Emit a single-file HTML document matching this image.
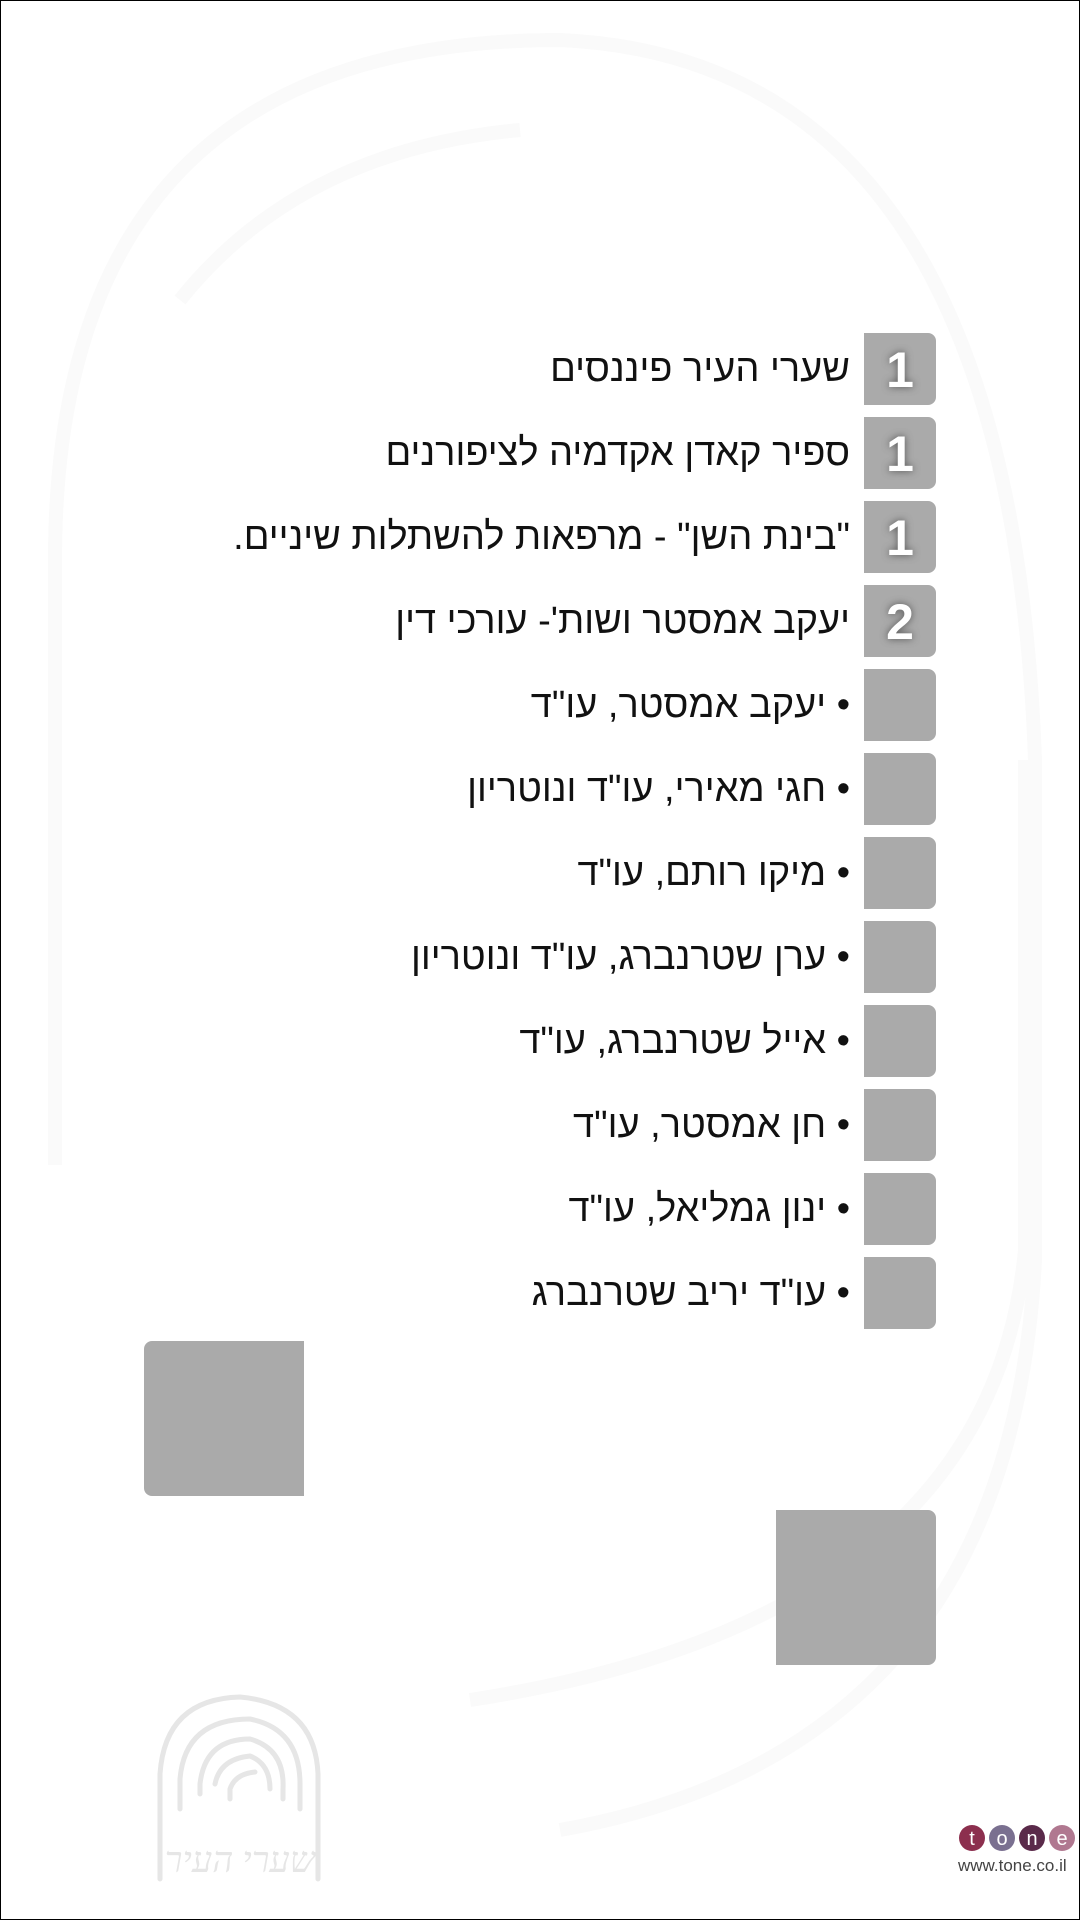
<!DOCTYPE html>
<html><head><meta charset="utf-8">
<style>
html,body{margin:0;padding:0}
body{width:1080px;height:1920px;position:relative;overflow:hidden;background:#fff;font-family:"Liberation Sans","DejaVu Sans",sans-serif}
.frame{position:absolute;left:0;top:0;width:1078px;height:1918px;border:1px solid #000}
.box{position:absolute;left:864px;width:72px;height:72px;background:#aaa;border-radius:0 8px 8px 0;color:#fff;font-weight:bold;font-size:50px;text-align:center;line-height:74px;text-shadow:0 0 8px #555}
.t{position:absolute;right:230px;height:72px;line-height:72px;font-size:38px;color:#111;direction:rtl;white-space:nowrap}
</style></head><body>
<div class="frame"></div>
<svg width="1080" height="1920" style="position:absolute;left:0;top:0">
<g fill="none" stroke="#fafafa" stroke-width="14">
<path d="M55 1165 V560 Q55 40 560 40 Q1010 60 1035 760 V1260 Q1010 1750 560 1830"/>
<path d="M180 300 Q300 150 520 130"/>
<path d="M1025 760 V1250 Q990 1620 470 1700"/>
</g>
</svg>
<div class="box" style="top:333px">1</div><div class="t" style="top:333px">שערי העיר פיננסים</div>
<div class="box" style="top:417px">1</div><div class="t" style="top:417px">ספיר קאדן אקדמיה לציפורנים</div>
<div class="box" style="top:501px">1</div><div class="t" style="top:501px">"בינת השן" - מרפאות להשתלות שיניים.</div>
<div class="box" style="top:585px">2</div><div class="t" style="top:585px">יעקב אמסטר ושות'- עורכי דין</div>
<div class="box" style="top:669px"></div><div class="t" style="top:669px">• יעקב אמסטר, עו"ד</div>
<div class="box" style="top:753px"></div><div class="t" style="top:753px">• חגי מאירי, עו"ד ונוטריון</div>
<div class="box" style="top:837px"></div><div class="t" style="top:837px">• מיקו רותם, עו"ד</div>
<div class="box" style="top:921px"></div><div class="t" style="top:921px">• ערן שטרנברג, עו"ד ונוטריון</div>
<div class="box" style="top:1005px"></div><div class="t" style="top:1005px">• אייל שטרנברג, עו"ד</div>
<div class="box" style="top:1089px"></div><div class="t" style="top:1089px">• חן אמסטר, עו"ד</div>
<div class="box" style="top:1173px"></div><div class="t" style="top:1173px">• ינון גמליאל, עו"ד</div>
<div class="box" style="top:1257px"></div><div class="t" style="top:1257px">• עו"ד יריב שטרנברג</div>
<div style="position:absolute;left:144px;top:1341px;width:160px;height:155px;background:#aaa;border-radius:8px 0 0 8px"></div>
<div style="position:absolute;left:776px;top:1510px;width:160px;height:155px;background:#aaa;border-radius:0 8px 8px 0"></div>
<svg width="170" height="190" style="position:absolute;left:155px;top:1694px">
<g fill="none" stroke="#e6e6e6" stroke-width="5" stroke-linecap="round">
<path d="M5 185 V80 Q10 5 85 3 Q160 10 163 80 V185"/>
<path d="M25 115 V85 Q30 25 95 25 Q145 35 145 90 V115"/>
<path d="M45 100 V90 Q50 45 95 45 Q130 55 128 95 V105"/>
<path d="M60 90 Q65 65 95 62 Q115 70 115 95"/>
<path d="M75 105 V95 Q80 80 100 78"/>
</g>
<text x="85" y="178" text-anchor="middle" font-size="36" fill="#e6e6e6" font-family="Liberation Serif,serif" font-style="italic">שערי העיר</text>
</svg>
<svg width="120" height="34" style="position:absolute;left:958px;top:1822px">
<circle cx="14" cy="16" r="13" fill="#8c2f4e"/><circle cx="44" cy="16" r="13" fill="#7a7090"/><circle cx="74" cy="16" r="13" fill="#5a2a4a"/><circle cx="104" cy="16" r="13" fill="#b07890"/>
<g fill="#fff" font-size="20" font-family="Liberation Sans,sans-serif" text-anchor="middle"><text x="14" y="23">t</text><text x="44" y="23">o</text><text x="74" y="23">n</text><text x="104" y="23">e</text></g>
</svg>
<div style="position:absolute;left:958px;top:1856px;font-size:17px;color:#444;white-space:nowrap">www.tone.co.il</div>
</body></html>
